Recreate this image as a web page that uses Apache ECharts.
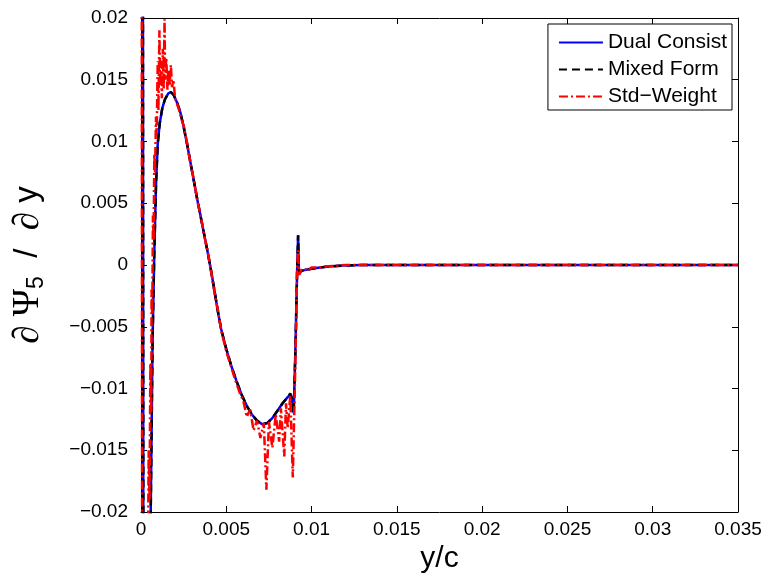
<!DOCTYPE html>
<html>
<head>
<meta charset="utf-8">
<script src="https://cdn.jsdelivr.net/npm/echarts@6/dist/echarts.min.js"></script>
<style>
html,body{margin:0;padding:0;background:#fff;}
#chart{width:772px;height:580px;}
</style>
</head>
<body>
<div id="chart"></div>
<script>
// x positions (y/c) and values (dPsi5/dy)
var xDual = [0.0001, 0.00015, 0.0003, 0.00057, 0.00068, 0.00078, 0.00088, 0.00098, 0.0011, 0.00125, 0.0014, 0.0016, 0.00175, 0.0019, 0.0021, 0.0023, 0.0025, 0.0027, 0.0029, 0.0031, 0.0033, 0.0035, 0.0037, 0.0039, 0.0041, 0.0043, 0.0045, 0.0047, 0.0050, 0.0053, 0.0056, 0.0059, 0.0062, 0.0065, 0.0068, 0.0071, 0.0074, 0.0077, 0.0080, 0.0083, 0.0086, 0.00875, 0.00885, 0.00895, 0.00905, 0.00915, 0.00921, 0.00926, 0.0094, 0.0096, 0.0100, 0.0105, 0.0110, 0.0118, 0.0130, 0.0150, 0.0200, 0.0250, 0.0300, 0.0350];
var yDual = [0.05, -0.05, -0.08, -0.02, -0.006, 0.001, 0.0065, 0.0098, 0.0115, 0.0127, 0.0134, 0.0139, 0.0140, 0.0138, 0.0132, 0.0124, 0.0112, 0.0098, 0.0083, 0.0068, 0.0053, 0.0039, 0.0025, 0.0011, -0.0004, -0.0020, -0.0037, -0.0052, -0.0068, -0.0082, -0.0094, -0.0105, -0.0114, -0.0121, -0.0126, -0.0129, -0.0128, -0.0124, -0.0118, -0.0112, -0.0107, -0.0105, -0.0108, -0.0120, -0.0070, -0.0007, 0.0024, -0.0006, -0.0005, -0.0004, -0.0003, -0.0002, -0.00012, -0.00005, 0, 0, 0, 0, 0, 0];

var xMixed = [0.0001, 0.00015, 0.0003, 0.00057, 0.00068, 0.00078, 0.00088, 0.00098, 0.0011, 0.00125, 0.0014, 0.0016, 0.00175, 0.0019, 0.0021, 0.0023, 0.0025, 0.0027, 0.0029, 0.0031, 0.0033, 0.0035, 0.0037, 0.0039, 0.0041, 0.0043, 0.0045, 0.0047, 0.0050, 0.0053, 0.0056, 0.0059, 0.0062, 0.0065, 0.0068, 0.0071, 0.0074, 0.0077, 0.0080, 0.0083, 0.0086, 0.00875, 0.00885, 0.00895, 0.00905, 0.00915, 0.00921, 0.00926, 0.0094, 0.0096, 0.0100, 0.0105, 0.0110, 0.0118, 0.0130, 0.0150, 0.0200, 0.0250, 0.0300, 0.0350];
var yMixed = [0.05, -0.05, -0.08, -0.02, -0.006, 0.001, 0.0065, 0.0098, 0.0115, 0.0127, 0.0134, 0.0139, 0.0140, 0.0138, 0.0132, 0.0124, 0.0112, 0.0098, 0.0083, 0.0068, 0.0053, 0.0039, 0.0025, 0.0011, -0.0004, -0.0020, -0.0037, -0.0052, -0.0068, -0.0082, -0.0094, -0.0105, -0.0114, -0.0121, -0.0126, -0.0129, -0.0128, -0.0124, -0.0118, -0.0112, -0.0107, -0.0104, -0.0108, -0.0120, -0.0070, -0.0007, 0.0024, -0.0006, -0.0005, -0.0004, -0.0003, -0.0002, -0.00012, -0.00005, 0, 0, 0, 0, 0, 0];

var xStd = [0.00003, 0.00008, 0.0004, 0.00045, 0.0005, 0.00055, 0.0006, 0.00062, 0.00066, 0.0007, 0.00074, 0.00078, 0.00082, 0.00088, 0.00092, 0.00098, 0.00102, 0.00108, 0.00112, 0.00118, 0.00122, 0.00128, 0.00133, 0.00138, 0.00142, 0.00148, 0.00155, 0.0016, 0.00168, 0.00175, 0.00182, 0.0019, 0.002, 0.0021, 0.0022, 0.0023, 0.0024, 0.0025, 0.0027, 0.0029, 0.0031, 0.0033, 0.0035, 0.0037, 0.0039, 0.0041, 0.0043, 0.0045, 0.0047, 0.0050, 0.0053, 0.0055, 0.0058, 0.0060, 0.0062, 0.0064, 0.0066, 0.0068, 0.0070, 0.0072, 0.00735, 0.0075, 0.0077, 0.0079, 0.0081, 0.0082, 0.0084, 0.0085, 0.0086, 0.00875, 0.0089, 0.00905, 0.00915, 0.0092, 0.00928, 0.0094, 0.0096, 0.0098, 0.0100, 0.0105, 0.0110, 0.0120, 0.0200, 0.0350];
var yStd = [0.05, -0.05, -0.025, -0.015, -0.019, -0.008, -0.012, -0.002, -0.004, 0.004, 0.002, 0.009, 0.0075, 0.012, 0.0105, 0.0165, 0.0125, 0.019, 0.0145, 0.0165, 0.0135, 0.0175, 0.0142, 0.0199, 0.0150, 0.0168, 0.0142, 0.0158, 0.0145, 0.0162, 0.0144, 0.0150, 0.0135, 0.0136, 0.0127, 0.0126, 0.0117, 0.0113, 0.0099, 0.0082, 0.0069, 0.0052, 0.0040, 0.0024, 0.0012, -0.0004, -0.0022, -0.0036, -0.0053, -0.0070, -0.0083, -0.0092, -0.0104, -0.0110, -0.0123, -0.0117, -0.0134, -0.0126, -0.0140, -0.0128, -0.0182, -0.0127, -0.0148, -0.0121, -0.0143, -0.0116, -0.0155, -0.0112, -0.0132, -0.0106, -0.0172, -0.0080, -0.0007, 0.0012, -0.0008, -0.0004, -0.0003, -0.0005, -0.0002, -0.0002, -0.0001, 0, 0, 0];

var seriesNames = ['Dual Consist', 'Mixed Form', 'Std\u2212Weight'];
var xTicks = {min: 0, max: 0.035, interval: 0.005};
var yTicks = {min: -0.02, max: 0.02, interval: 0.005};

function pairs(xs, ys) { return xs.map(function (x, i) { return [x, ys[i]]; }); }
function fmt(v) { return String(parseFloat(v.toFixed(6))).replace('-', '\u2212'); }

var FONT = 'Liberation Sans';
var chart = echarts.init(document.getElementById('chart'), null, {renderer: 'canvas'});

var tickCommon = {show: true, inside: true, length: 6, lineStyle: {color: '#000', width: 1}};
var lineCommon = {show: true, onZero: false, lineStyle: {color: '#000', width: 1}};

chart.setOption({
  animation: false,
  backgroundColor: '#fff',
  grid: {left: 141, right: 34, top: 18, bottom: 68, containLabel: false},
  legend: {
    orient: 'vertical',
    right: 40,
    top: 24,
    data: seriesNames,
    itemWidth: 44,
    itemHeight: 14,
    itemGap: 6,
    padding: [8, 5, 3, 10],
    borderColor: '#000',
    borderWidth: 1,
    backgroundColor: '#fff',
    itemStyle: {opacity: 0},
    textStyle: {fontFamily: FONT, fontSize: 21, color: '#000'}
  },
  xAxis: [{
    type: 'value',
    min: xTicks.min, max: xTicks.max, interval: xTicks.interval,
    axisLine: lineCommon,
    axisTick: tickCommon,
    splitLine: {show: false},
    axisLabel: {formatter: fmt, fontFamily: FONT, fontSize: 19, color: '#000', margin: 8},
    name: 'y/c',
    nameLocation: 'middle',
    nameGap: 26,
    nameTextStyle: {fontFamily: FONT, fontSize: 30, color: '#000', verticalAlign: 'top'}
  }, {
    type: 'value', position: 'top',
    min: xTicks.min, max: xTicks.max, interval: xTicks.interval,
    axisLine: lineCommon, axisTick: tickCommon,
    splitLine: {show: false}, axisLabel: {show: false}
  }],
  yAxis: [{
    type: 'value',
    min: yTicks.min, max: yTicks.max, interval: yTicks.interval,
    axisLine: lineCommon,
    axisTick: tickCommon,
    splitLine: {show: false},
    axisLabel: {formatter: fmt, fontFamily: FONT, fontSize: 19, color: '#000', margin: 13},
    name: '{s|\u2202 \u03A8}{sub|5}{n|  /  }{s|\u2202}{n| y}',
    nameLocation: 'middle',
    nameRotate: 90,
    nameGap: 93,
    nameTextStyle: {
      color: '#000',
      rich: {
        s: {fontFamily: 'Liberation Serif', fontSize: 37, color: '#000', lineHeight: 40},
        n: {fontFamily: FONT, fontSize: 33, color: '#000', lineHeight: 40},
        sub: {fontFamily: FONT, fontSize: 23, color: '#000', verticalAlign: 'bottom', lineHeight: 40}
      }
    }
  }, {
    type: 'value', position: 'right',
    min: yTicks.min, max: yTicks.max, interval: yTicks.interval,
    axisLine: lineCommon, axisTick: tickCommon,
    splitLine: {show: false}, axisLabel: {show: false}
  }],
  series: [{
    name: seriesNames[0], type: 'line', symbol: 'none', clip: true,
    data: pairs(xDual, yDual),
    lineStyle: {color: '#0000ff', width: 2.5, type: 'solid'},
    itemStyle: {color: '#0000ff'}
  }, {
    name: seriesNames[1], type: 'line', symbol: 'none', clip: true,
    data: pairs(xMixed, yMixed),
    lineStyle: {color: '#000000', width: 2.5, type: [8, 5]},
    itemStyle: {color: '#000000'}
  }, {
    name: seriesNames[2], type: 'line', symbol: 'none', clip: true,
    data: pairs(xStd, yStd),
    lineStyle: {color: '#ff0000', width: 2.5, type: [9, 3, 2, 3]},
    itemStyle: {color: '#ff0000'}
  }]
});
</script>
</body>
</html>
